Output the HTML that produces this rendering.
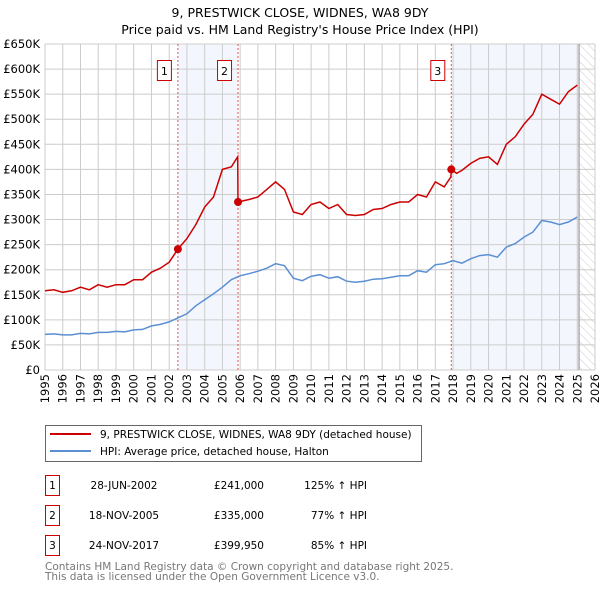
<!DOCTYPE html>
<html><head><meta charset="utf-8"><style>
body{margin:0;background:#fff;font-family:"DejaVu Sans","Liberation Sans",sans-serif;}
svg text{font-family:"DejaVu Sans","Liberation Sans",sans-serif;}
</style></head><body>
<svg id="c" width="600" height="590" xmlns="http://www.w3.org/2000/svg">
<defs><pattern id="hatch" width="6" height="6" patternUnits="userSpaceOnUse" patternTransform="rotate(-45)"><line x1="0" y1="0" x2="0" y2="6" stroke="#ccc" stroke-width="1"/></pattern></defs>
<text x="300" y="17" text-anchor="middle" font-size="12.5">9, PRESTWICK CLOSE, WIDNES, WA8 9DY</text>
<text x="300" y="34" text-anchor="middle" font-size="12.5">Price paid vs. HM Land Registry's House Price Index (HPI)</text>
<g id="plot"></g>
<g>
<rect x="45.5" y="425.5" width="376" height="36" fill="#fff" stroke="#666"/>
<line x1="50" y1="434" x2="91" y2="434" stroke="#cc0000" stroke-width="2"/>
<text x="100" y="438" font-size="10.5">9, PRESTWICK CLOSE, WIDNES, WA8 9DY (detached house)</text>
<line x1="50" y1="451" x2="91" y2="451" stroke="#5b8fd4" stroke-width="2"/>
<text x="100" y="455" font-size="10.5">HPI: Average price, detached house, Halton</text>
</g>
<g id="table" font-size="10.5"></g>
<text x="45" y="570" font-size="10.5" fill="#777">Contains HM Land Registry data © Crown copyright and database right 2025.</text>
<text x="45" y="580" font-size="10.5" fill="#777">This data is licensed under the Open Government Licence v3.0.</text>
</svg>
<script>
const hpiYears=[1995,1995.5,1996,1996.5,1997,1997.5,1998,1998.5,1999,1999.5,2000,2000.5,2001,2001.5,2002,2002.5,2003,2003.5,2004,2004.5,2005,2005.5,2006,2006.5,2007,2007.5,2008,2008.5,2009,2009.5,2010,2010.5,2011,2011.5,2012,2012.5,2013,2013.5,2014,2014.5,2015,2015.5,2016,2016.5,2017,2017.5,2018,2018.5,2019,2019.5,2020,2020.5,2021,2021.5,2022,2022.5,2023,2023.5,2024,2024.5,2025];
const hpiValues=[71,72,70,70,73,72,75,75,77,76,80,81,88,91,96,104,112,128,140,152,165,180,188,192,197,203,212,208,183,178,187,190,183,186,177,175,177,181,182,185,188,188,198,195,210,212,218,213,222,228,230,225,245,252,265,275,298,295,290,295,305];
const ppYears=[1995,1995.5,1996,1996.5,1997,1997.5,1998,1998.5,1999,1999.5,2000,2000.5,2001,2001.5,2002,2002.49,2003,2003.5,2004,2004.5,2005,2005.5,2005.86,2005.88,2006.5,2007,2007.5,2008,2008.5,2009,2009.5,2010,2010.5,2011,2011.5,2012,2012.5,2013,2013.5,2014,2014.5,2015,2015.5,2016,2016.5,2017,2017.5,2017.88,2017.9,2018.2,2018.5,2019,2019.5,2020,2020.5,2021,2021.5,2022,2022.5,2023,2023.5,2024,2024.5,2025];
const ppValues=[158,160,155,158,165,160,170,165,170,170,180,180,195,203,215,241,262,290,325,345,400,405,425,335,340,345,360,375,360,315,310,330,335,322,330,310,308,310,320,322,330,335,335,350,345,375,365,385,400,392,398,412,422,425,410,450,465,490,510,550,540,530,555,568];
const saleYears=[2002.49,2005.88,2017.9];
const saleValues=[241,335,399.95];
const saleLabels=["1","2","3"];
const saleDates=["28-JUN-2002","18-NOV-2005","24-NOV-2017"];
const salePrices=["£241,000","£335,000","£399,950"];
const saleHpi=["125% ↑ HPI","77% ↑ HPI","85% ↑ HPI"];
const yTicks=[0,50,100,150,200,250,300,350,400,450,500,550,600,650];
const xTicks=[1995,1996,1997,1998,1999,2000,2001,2002,2003,2004,2005,2006,2007,2008,2009,2010,2011,2012,2013,2014,2015,2016,2017,2018,2019,2020,2021,2022,2023,2024,2025,2026];
const X0=45,X1=595,Y0=370,Y1=44;
const xs=y=>X0+(y-1995)/(2026-1995)*(X1-X0);
const ys=v=>Y0-v/650*(Y0-Y1);
const NS="http://www.w3.org/2000/svg";
const plot=document.getElementById('plot');
function mk(tag,attrs,parent){const e=document.createElementNS(NS,tag);for(const k in attrs)e.setAttribute(k,attrs[k]);(parent||plot).appendChild(e);return e;}
let r;
r=mk('rect',{x:xs(saleYears[0]),y:Y1,width:xs(saleYears[1])-xs(saleYears[0]),height:Y0-Y1,fill:'#eef3fc',opacity:0.7});

r=mk('rect',{x:xs(saleYears[2]),y:Y1,width:xs(2025.1)-xs(saleYears[2]),height:Y0-Y1,fill:'#eef3fc',opacity:0.7});

r=mk('rect',{x:xs(2025.1),y:Y1,width:X1-xs(2025.1),height:Y0-Y1,fill:'url(#hatch)'});

for(const t of yTicks){const l=mk('line',{x1:X0,x2:X1,y1:ys(t),y2:ys(t),stroke:'#ccc','stroke-width':1});

const tx=mk('text',{x:40,y:ys(t)+4,'text-anchor':'end','font-size':11.5});tx.textContent=t===0?'£0':'£'+t+'K';
}
for(const t of xTicks){const l=mk('line',{y1:Y1,y2:Y0,x1:xs(t),x2:xs(t),stroke:'#ccc','stroke-width':1});

const tx=mk('text',{x:0,y:0,'text-anchor':'end','font-size':11.5,transform:`translate(${xs(t)+4},374) rotate(-90)`});tx.textContent=t;
}
r=mk('line',{x1:xs(2025.1),x2:xs(2025.1),y1:Y1,y2:Y0,stroke:'#999','stroke-width':1.2});

saleYears.forEach((y,i)=>{const l=mk('line',{x1:xs(y),x2:xs(y),y1:Y1,y2:Y0,stroke:'#e05555','stroke-width':1,'stroke-dasharray':'2,2'});

const b=mk('rect',{x:xs(y)-20.5,y:60.5,width:14,height:20,fill:'#fff',stroke:'#cc0000'});

const t=mk('text',{x:xs(y)-13.5,y:75,'text-anchor':'middle','font-size':11});t.textContent=saleLabels[i];
});
const path=(xa,va)=>xa.map((y,i)=>(i?'L':'M')+xs(y).toFixed(1)+','+ys(va[i]).toFixed(1)).join('');
r=mk('path',{d:path(hpiYears,hpiValues),fill:'none',stroke:'#5b8fd4','stroke-width':1.5});

r=mk('path',{d:path(ppYears,ppValues),fill:'none',stroke:'#cc0000','stroke-width':1.5});

saleYears.forEach((y,i)=>{const c=mk('circle',{cx:xs(y),cy:ys(saleValues[i]),r:4,fill:'#cc0000'});
});
const tb=document.getElementById('table');
saleYears.forEach((y,i)=>{const yy=475+i*30;
const b=mk('rect',{x:45.5,y:yy+0.5,width:14,height:20,fill:'#fff',stroke:'#cc0000'},tb);

const cells=[[52.5,saleLabels[i],'middle'],[124,saleDates[i],'middle'],[264,salePrices[i],'end'],[367,saleHpi[i],'end']];
for(const [x,s,a] of cells){const t=mk('text',{x:x,y:yy+14,'text-anchor':a},tb);t.textContent=s;
}});
</script>
</body></html>
